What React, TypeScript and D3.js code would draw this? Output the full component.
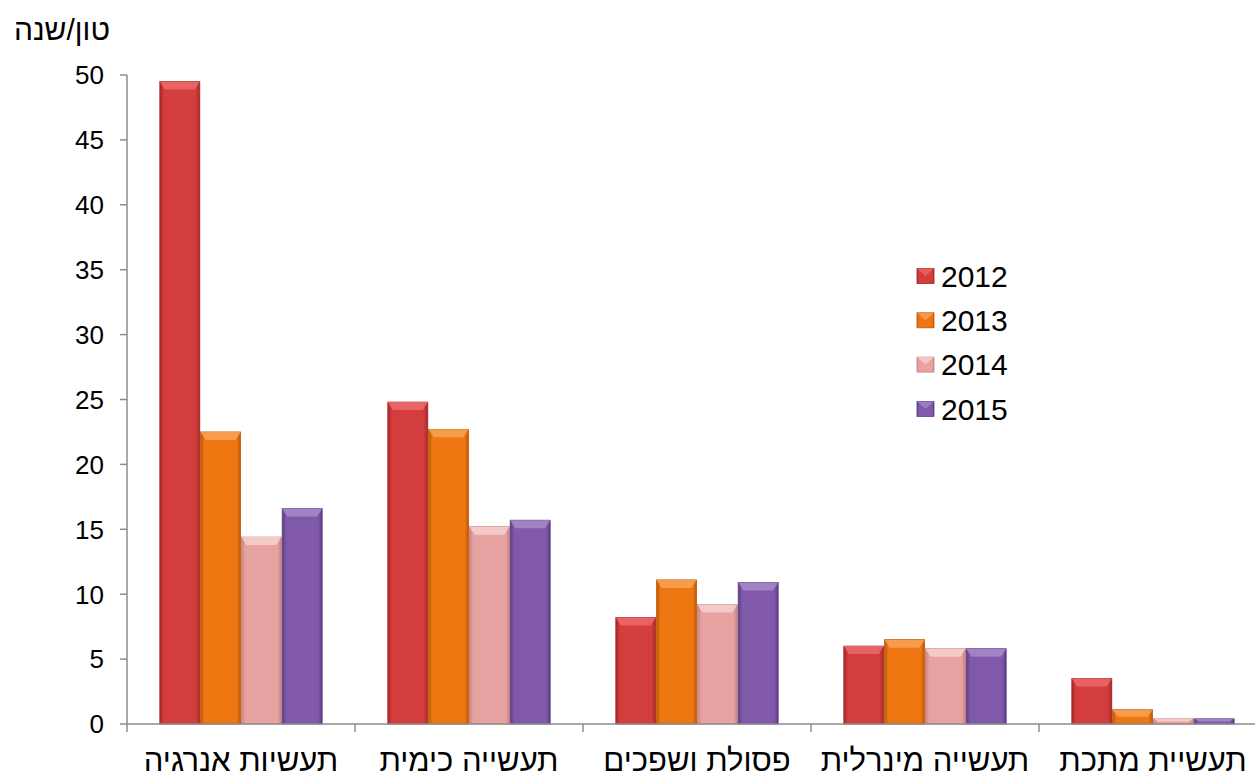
import React from "react";
import * as d3 from "d3";

const categories = ["תעשיות אנרגיה", "תעשייה כימית", "פסולת ושפכים", "תעשייה מינרלית", "תעשיית מתכת"];
const seriesNames = ["2012", "2013", "2014", "2015"];
const values2012 = [49.5, 24.8, 8.2, 6.0, 3.5];
const values2013 = [22.5, 22.7, 11.1, 6.5, 1.1];
const values2014 = [14.4, 15.2, 9.2, 5.8, 0.4];
const values2015 = [16.6, 15.7, 10.9, 5.8, 0.4];
const yTicks = [0, 5, 10, 15, 20, 25, 30, 35, 40, 45, 50];
const unitLabel = "טון/שנה";

const seriesValues = [values2012, values2013, values2014, values2015];
const palette = [
  { base: "#D43D3D", edge: "#A32626", top: "#EA6868" },
  { base: "#EF7712", edge: "#BE5806", top: "#F7A052" },
  { base: "#E7A3A1", edge: "#C7847F", top: "#F5CECC" },
  { base: "#8059AA", edge: "#5B3D83", top: "#A386C8" },
];

const FONT = "'Liberation Sans', Arial, 'DejaVu Sans', sans-serif";

export default function App() {
  const W = 1255, H = 777;
  const x0 = 127, bandW = 228;
  const x = d3.scaleBand<string>().domain(categories).range([x0, x0 + bandW * categories.length]).paddingInner(0).paddingOuter(0);
  const xs = d3.scaleBand<string>().domain(seriesNames).range([32, 196]).padding(0.02);
  const y = d3.scaleLinear().domain([0, 50]).range([724, 75]);
  const axisColor = "#8C8C8C";

  return (
    <svg width={W} height={H} style={{ position: "absolute", left: 0, top: 0, background: "#fff" }} fontFamily={FONT}>
      <defs>
        {palette.map((p, i) => (
          <linearGradient key={i} id={`g${i}`} x1="0" x2="1" y1="0" y2="0">
            <stop offset="0" stopColor={p.edge} />
            <stop offset="0.1" stopColor={p.base} />
            <stop offset="0.5" stopColor={p.base} />
            <stop offset="0.9" stopColor={p.base} />
            <stop offset="1" stopColor={p.edge} />
          </linearGradient>
        ))}
      </defs>

      {/* title */}
      <text x={110} y={40} fontSize={30} direction="rtl" textAnchor="start" fill="#000">{unitLabel}</text>

      {/* y axis ticks & labels */}
      {yTicks.map((t) => (
        <g key={t}>
          <line x1={120} x2={x0} y1={y(t)} y2={y(t)} stroke={axisColor} strokeWidth={1.5} />
          <text x={104} y={y(t)} dy="0.36em" textAnchor="end" fontSize={26} fill="#000">{t}</text>
        </g>
      ))}
      <line x1={x0} x2={x0} y1={y(50)} y2={y(0)} stroke={axisColor} strokeWidth={1.5} />

      {/* bars */}
      {categories.map((c, ci) => (
        <g key={c}>
          {seriesNames.map((s, si) => {
            const v = seriesValues[si][ci];
            const bx = (x(c) as number) + (xs(s) as number);
            const bw = xs.bandwidth();
            const by = y(v);
            const bh = y(0) - by;
            const bev = Math.min(8, bh / 2);
            const p = palette[si];
            return (
              <g key={s}>
                <rect x={bx} y={by} width={bw} height={bh} fill={`url(#g${si})`} stroke={p.edge} strokeWidth={0.8} />
                <polygon
                  points={`${bx},${by} ${bx + bw},${by} ${bx + bw - 5},${by + bev} ${bx + 5},${by + bev}`}
                  fill={p.top}
                  opacity={0.9}
                />
              </g>
            );
          })}
        </g>
      ))}

      {/* x axis */}
      <line x1={x0} x2={W} y1={y(0)} y2={y(0)} stroke={axisColor} strokeWidth={1.5} />
      {categories.map((c) => (
        <line key={c} x1={x(c) as number} x2={x(c) as number} y1={y(0)} y2={y(0) + 8} stroke={axisColor} strokeWidth={1.5} />
      ))}
      {categories.map((c) => (
        <text key={c} x={(x(c) as number) + bandW / 2} y={771} textAnchor="middle" direction="rtl" fontSize={31} fill="#000">{c}</text>
      ))}

      {/* legend */}
      {seriesNames.map((s, i) => {
        const cy = 276 + i * 44.3;
        const p = palette[i];
        return (
          <g key={s}>
            <rect x={917} y={cy - 7.5} width={17} height={15} fill={`url(#g${i})`} stroke={p.edge} strokeWidth={0.8} />
            <polygon points={`${917},${cy - 7.5} ${934},${cy - 7.5} ${925.5},${cy}`} fill={p.top} opacity={0.8} />
            <text x={941} y={cy} dy="0.36em" fontSize={30} fill="#000">{s}</text>
          </g>
        );
      })}
    </svg>
  );
}
